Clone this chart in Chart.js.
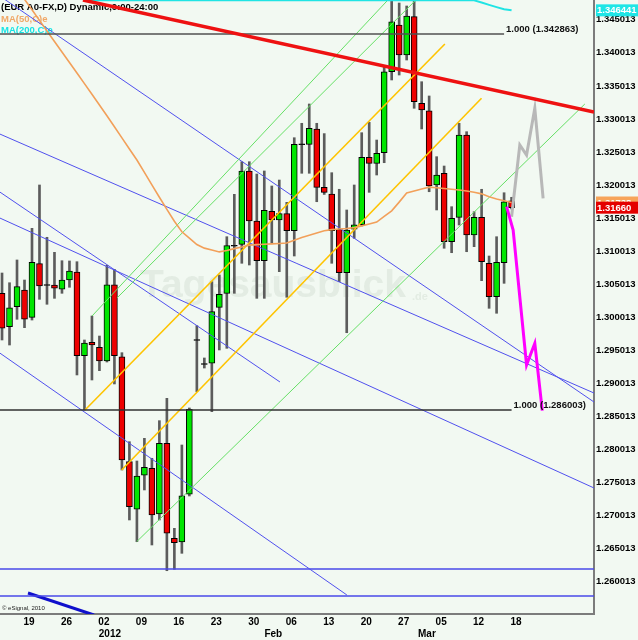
<html>
<head>
    <meta charset="utf-8">
    <title>EUR A0-FX,D</title>
    <style>
        html, body { margin: 0; padding: 0; background: #f2f9f2; }
        canvas { display: block; }
    </style>
</head>
<body>
    <canvas id="myChart" width="638" height="640"></canvas>
</body>
<script src="https://cdn.jsdelivr.net/npm/chart.js"></script>
<script>
    // daily candles, index 0 = first visible bar
    const opens  = [1.30365,1.29860,1.30162,1.30415,1.30002,1.30813,1.30498,1.30491,1.30426,1.30566,
                    1.30687,1.29421,1.29624,1.29549,1.29341,1.30495,1.29406,1.27819,1.27099,1.27613,
                    1.27719,1.27028,1.28097,1.26660,1.26604,1.27326,1.29666,1.29303,1.29307,1.30153,
                    1.30365,1.31092,1.31106,1.32215,1.31458,1.30858,1.31605,1.31474,1.31569,1.31312,
                    1.32625,1.32618,1.32850,1.31968,1.31867,1.31333,1.30677,1.31333,1.31402,1.32422,
                    1.32331,1.32491,1.33716,1.34422,1.33969,1.34548,1.33238,1.33126,1.32003,1.32180,
                    1.31145,1.31514,1.32759,1.31247,1.31514,1.30819,1.30314,1.30828,1.31765]
    const highs  = [1.30672,1.30525,1.30869,1.30566,1.31348,1.32003,1.31212,1.30985,1.30858,1.30854,
                    1.30843,1.29659,1.30022,1.29719,1.30789,1.30728,1.29467,1.28121,1.27829,1.28172,
                    1.27870,1.28439,1.28777,1.26811,1.28071,1.28631,1.29875,1.29387,1.30541,1.30642,
                    1.31221,1.31862,1.32355,1.32355,1.32169,1.32215,1.31988,1.32078,1.31741,1.32718,
                    1.32936,1.33228,1.32936,1.32780,1.32189,1.31938,1.31625,1.32003,1.32794,1.32951,
                    1.32683,1.33792,1.34846,1.34755,1.34710,1.34846,1.33565,1.33349,1.32431,1.32290,
                    1.31675,1.32936,1.32809,1.31599,1.31938,1.30929,1.31221,1.31886,1.31817]
    const lows   = [1.29659,1.29583,1.29972,1.29845,1.29961,1.30274,1.30199,1.30289,1.30365,1.30456,
                    1.29130,1.28600,1.29054,1.29195,1.29326,1.28994,1.27693,1.26937,1.26609,1.27391,
                    1.26559,1.26937,1.26170,1.26191,1.26433,1.27300,1.28877,1.29235,1.28575,1.29508,
                    1.29533,1.30365,1.30819,1.30793,1.30289,1.30289,1.31121,1.30692,1.30305,1.30929,
                    1.32180,1.32180,1.31750,1.31860,1.30819,1.30541,1.29769,1.31197,1.31383,1.31892,
                    1.32154,1.32340,1.33591,1.33666,1.33893,1.33163,1.32850,1.31901,1.31625,1.31046,
                    1.30979,1.31398,1.30994,1.31070,1.30556,1.30138,1.30063,1.30516,1.31640]
    const closes = [1.29836,1.30147,1.30465,1.29972,1.30834,1.30475,1.30484,1.30441,1.30566,1.30702,
                    1.29421,1.29614,1.29583,1.29341,1.30495,1.29421,1.27844,1.27138,1.27602,1.27734,
                    1.27013,1.28097,1.26736,1.26594,1.27304,1.28611,1.29652,1.29289,1.30087,1.30350,
                    1.31085,1.31078,1.32215,1.31458,1.30858,1.31620,1.31474,1.31569,1.31312,1.32618,
                    1.32611,1.32860,1.31968,1.31892,1.31312,1.30677,1.31322,1.31402,1.32422,1.32331,
                    1.32482,1.33716,1.34472,1.33969,1.34558,1.33262,1.33137,1.31988,1.32154,1.31145,
                    1.31499,1.32759,1.31247,1.31514,1.30843,1.30314,1.30834,1.31750,1.31660]

    // MA(50) starts at bar 2
    const ma50Start = 2
    const ma50 = [1.34967,1.34811,1.34652,1.34492,1.34333,1.34174,1.34014,1.33855,1.33696,1.33536,
                  1.33374,1.33212,1.33050,1.32884,1.32716,1.32548,1.32381,1.32193,1.32005,1.31818,
                  1.31633,1.31454,1.31296,1.31200,1.31103,1.31048,1.31020,1.30991,1.31013,1.31041,
                  1.31066,1.31094,1.31101,1.31107,1.31113,1.31119,1.31125,1.31169,1.31210,1.31243,
                  1.31277,1.31311,1.31328,1.31337,1.31345,1.31358,1.31385,1.31414,1.31443,1.31528,
                  1.31612,1.31744,1.31881,1.31912,1.31942,1.31971,1.31962,1.31950,1.31939,1.31927,
                  1.31912,1.31894,1.31869,1.31826,1.31792,1.31765,1.31738]
    // MA(200): runs along the top edge, comes in at the end
    const ma200 = [[11,1.34798],[62,1.34798],[63,1.34795],[64,1.34762],[65,1.34727],[66,1.34693],[67,1.34660],[68,1.34644]]

    // drawn objects as [bar index, price]
    const redLine   = [[10.8,1.34800],[79.0,1.33107]]
    const levelTop  = [[-0.3,1.342863],[67.0,1.342863]]
    const levelLow  = [[-0.3,1.286003],[68.0,1.286003]]
    const yellowA   = [[11.07,1.28600],[59.10,1.34135]]
    const yellowB   = [[15.97,1.27693],[63.99,1.33314]]
    const greenA    = [[12.01,1.30022],[51.49,1.34800]]
    const greenB    = [[15.34,1.30294],[55.23,1.34800]]
    const greenC    = [[17.97,1.26609],[77.78,1.33228]]
    const blueA     = [[-0.3,1.34861],[79.0,1.28721]]
    const blueB     = [[-0.3,1.32774],[79.0,1.28857]]
    const blueC     = [[-0.3,1.31897],[37.09,1.29024]]
    const blueD     = [[-0.3,1.31504],[79.0,1.27421]]
    const blueE     = [[-0.3,1.29462],[46.02,1.25803]]
    const blueH1    = [[-0.3,1.26196],[79.0,1.26196]]
    const blueH2    = [[-0.3,1.25788],[79.0,1.25788]]
    const blueThick = [[3.47,1.25833],[12.27,1.25500]]
    const magentaPath = [[67.33,1.31675],[68.21,1.31322],[70.0,1.29281],[71.1,1.29609],[72.1,1.28590]]
    const grayPath    = [[68.0,1.31523],[69.10,1.32608],[70.0,1.32456],[71.1,1.33163],[72.21,1.31802]]

    // axis ticks
    const dateTickPos  = [3.6,8.6,13.6,18.6,23.6,28.6,33.6,38.6,43.6,48.6,53.6,58.6,63.6,68.6]
    const dateLabels   = ['19','26','02','09','16','23','30','06','13','20','27','05','12','18']
    const monthTickPos = [14.4,36.2,56.7]
    const monthLabels  = ['2012','Feb','Mar']
    const priceTicks   = [1.260013,1.265013,1.270013,1.275013,1.280013,1.285013,1.290013,1.295013,1.300013,
                          1.305013,1.310013,1.315013,1.320013,1.325013,1.330013,1.335013,1.340013,1.345013]

    const FONT = '"Liberation Sans", Arial, sans-serif'

    const candleColor = i => {
        if (Math.abs(opens[i] - closes[i]) < 0.00025) return '#000000'
        return closes[i] > opens[i] ? '#00e600' : '#ee0000'
    }

    const seg = (pts, color, width, extra) => Object.assign({
        type: 'line',
        data: pts.map(p => ({ x: p[0], y: p[1] })),
        borderColor: color,
        borderWidth: width,
        pointRadius: 0,
        tension: 0,
        fill: false,
        order: 2
    }, extra || {})

    const fixed = (prop, size) => scale => {
        scale[prop] = size
        scale.paddingLeft = 0; scale.paddingRight = 0
        scale.paddingTop = 0; scale.paddingBottom = 0
    }

    const decor = {
        id: 'decor',
        beforeDraw(chart) {
            const c = chart.ctx
            c.save()
            c.fillStyle = '#f2f9f2'
            c.fillRect(0, 0, chart.width, chart.height)
            c.restore()
        },
        beforeDatasetsDraw(chart) {
            const c = chart.ctx
            c.save()
            // watermark
            c.fillStyle = 'rgba(175,190,175,0.22)'
            c.font = 'bold 39px ' + FONT
            c.fillText('Tagesausblick', 140, 297)
            c.font = 'bold 11px ' + FONT
            c.fillText('.de', 412, 300)
            // header
            c.font = 'bold 9.5px ' + FONT
            c.fillStyle = '#000'
            c.fillText('(EUR A0-FX,D) Dynamic,0:00-24:00', 1, 9.5)
            c.fillStyle = '#f0a868'
            c.fillText('MA(50,C)e', 1, 21.5)
            c.fillStyle = '#18e4e4'
            c.fillText('MA(200,C)e', 1, 33)
            c.restore()
        },
        afterDatasetsDraw(chart) {
            const c = chart.ctx, xs = chart.scales.x, ys = chart.scales.y
            c.save()
            c.font = 'bold 9.5px ' + FONT
            c.fillStyle = '#111'
            c.textBaseline = 'middle'
            c.fillText('1.000 (1.342863)', xs.getPixelForValue(levelTop[1][0]) + 2, ys.getPixelForValue(levelTop[1][1]) - 5)
            c.fillText('1.000 (1.286003)', xs.getPixelForValue(levelLow[1][0]) + 2, ys.getPixelForValue(levelLow[1][1]) - 5)
            c.restore()
        },
        afterDraw(chart) {
            const c = chart.ctx, ys = chart.scales.y
            const left = chart.chartArea.right + 2
            const box = (val, text, bg) => {
                const y = ys.getPixelForValue(val)
                c.fillStyle = bg
                c.fillRect(left, y - 6, 42, 12)
                c.fillStyle = '#fff'
                c.fillText(text, left + 1, y + 0.5)
            }
            c.save()
            c.font = 'bold 9.5px ' + FONT
            c.textBaseline = 'middle'
            box(ma200[ma200.length - 1][1], '1.346441', '#1ee6e6')
            box(ma50[ma50.length - 1], '1.31738', '#f7a45a')
            box(closes[closes.length - 1], '1.31660', '#e40000')
            c.fillStyle = '#222'
            c.font = '6px ' + FONT
            c.fillText('\u00a9 eSignal, 2010', 2, chart.chartArea.bottom - 6)
            c.restore()
        }
    }

    const data = {
        datasets: [
            seg(redLine, '#ee1111', 3.5),
            seg(magentaPath, '#ff00ff', 3),
            seg(grayPath, '#b8b8b8', 3),
            seg(levelTop, '#505050', 1.5),
            seg(levelLow, '#303030', 1.5),
            seg(ma50.map((v, i) => [ma50Start + i, v]), '#f2a05a', 1.6),
            seg(ma200, '#20e4e4', 2),
            seg(yellowA, '#ffc400', 1.6),
            seg(yellowB, '#ffc400', 1.6),
            seg(greenA, '#66e066', 1),
            seg(greenB, '#66e066', 1),
            seg(greenC, '#66e066', 1),
            seg(blueA, '#5050ee', 1),
            seg(blueB, '#5050ee', 1),
            seg(blueC, '#5050ee', 1),
            seg(blueD, '#5050ee', 1),
            seg(blueE, '#5050ee', 1),
            seg(blueH1, '#4848e8', 1.6),
            seg(blueH2, '#4848e8', 1.6),
            seg(blueThick, '#1010cc', 3),
            {
                type: 'bar',
                data: opens.map((o, i) => ({ x: i, y: [o, closes[i]] })),
                backgroundColor: opens.map((o, i) => candleColor(i)),
                borderColor: '#000',
                borderWidth: 1,
                borderSkipped: false,
                grouped: false,
                categoryPercentage: 1,
                barPercentage: 1,
                maxBarThickness: 6,
                order: 10
            },
            {
                type: 'bar',
                data: lows.map((l, i) => ({ x: i, y: [l, highs[i]] })),
                backgroundColor: '#5c5c5c',
                borderWidth: 0,
                grouped: false,
                categoryPercentage: 1,
                barPercentage: 1,
                maxBarThickness: 2,
                order: 11
            }
        ]
    }

    new Chart(document.getElementById('myChart').getContext('2d'), {
        type: 'bar',
        data: data,
        plugins: [decor],
        options: {
            responsive: false,
            devicePixelRatio: 1,
            animation: false,
            events: [],
            layout: { padding: 0 },
            plugins: { legend: { display: false }, tooltip: { enabled: false } },
            scales: {
                x: {
                    type: 'linear', position: 'bottom', min: -0.27, max: 79.0, offset: false,
                    grid: { display: false, drawTicks: false },
                    border: { display: true, color: '#7c7c7c', width: 2 },
                    afterBuildTicks: s => { s.ticks = dateTickPos.map(v => ({ value: v })) },
                    afterFit: fixed('height', 13),
                    ticks: {
                        autoSkip: false, maxRotation: 0, padding: 2, color: '#000',
                        font: { family: FONT, size: 10, weight: 'bold' },
                        callback: (v, i) => dateLabels[i]
                    }
                },
                x2: {
                    type: 'linear', position: 'bottom', min: -0.27, max: 79.0, offset: false,
                    grid: { display: false, drawTicks: false },
                    border: { display: false },
                    afterBuildTicks: s => { s.ticks = monthTickPos.map(v => ({ value: v })) },
                    afterFit: fixed('height', 13),
                    ticks: {
                        autoSkip: false, maxRotation: 0, padding: 1, color: '#000',
                        font: { family: FONT, size: 10, weight: 'bold' },
                        callback: (v, i) => monthLabels[i]
                    }
                },
                y: {
                    type: 'linear', position: 'right', min: 1.255153, max: 1.348005,
                    grid: { display: false, drawTicks: false },
                    border: { display: true, color: '#7c7c7c', width: 2 },
                    afterBuildTicks: s => { s.ticks = priceTicks.map(v => ({ value: v })) },
                    afterFit: fixed('width', 44),
                    ticks: {
                        padding: 2, color: '#000',
                        font: { family: FONT, size: 9.5, weight: 'bold' },
                        callback: v => v.toFixed(6)
                    }
                }
            }
        }
    })
</script>
</html>
